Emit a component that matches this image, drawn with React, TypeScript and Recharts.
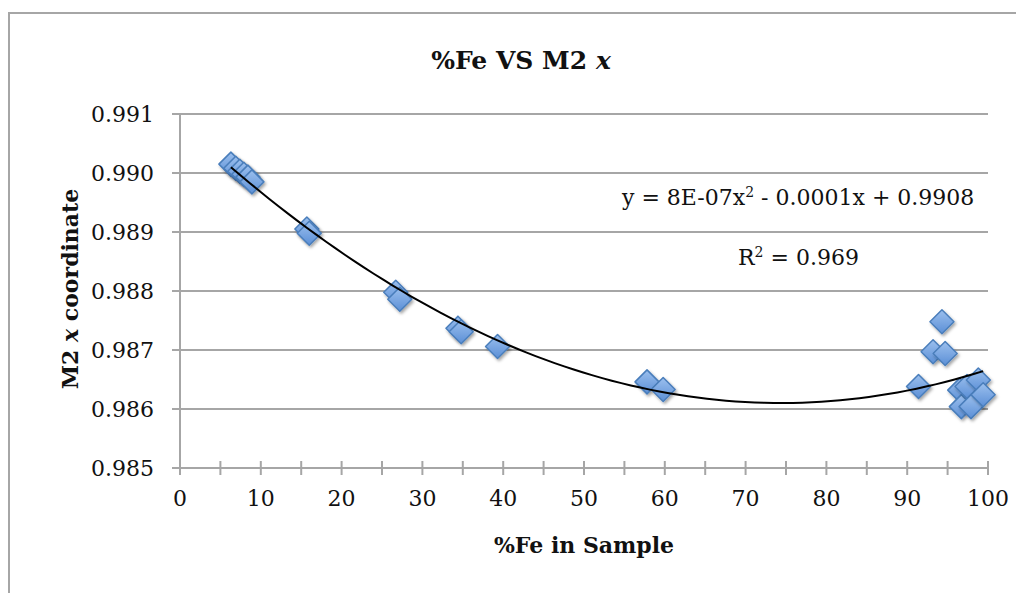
import React from "react";
import { CartesianGrid, Scatter, ScatterChart, XAxis, YAxis } from "recharts";

// %Fe in sample vs. M2 x coordinate, one entry per measured sample
const feX = [
  6.3, 6.9, 7.4, 7.9, 8.4, 8.9, 15.7, 16.0, 26.7, 27.2, 34.4, 34.8, 39.3,
  57.8, 59.8, 91.4, 93.2, 94.3, 94.7, 96.5, 96.7, 97.4, 97.9, 98.8, 99.4,
];
const m2X = [
  0.99015, 0.99008, 0.99003, 0.98998, 0.98993, 0.98985, 0.98905, 0.98898,
  0.98798, 0.98786, 0.98737, 0.98731, 0.98706, 0.98646, 0.98633, 0.98638,
  0.98697, 0.98748, 0.98694, 0.98632, 0.98604, 0.98638, 0.98604, 0.98649,
  0.98624,
];
const xTicks = [0, 5, 10, 15, 20, 25, 30, 35, 40, 45, 50, 55, 60, 65, 70, 75, 80, 85, 90, 95, 100];
const yTicks = [0.985, 0.986, 0.987, 0.988, 0.989, 0.99, 0.991];

const FONT = "'DejaVu Serif', serif";
const GRID = "#a6a6a6";

const samples = feX.map((x, i) => ({ x, y: m2X[i] }));

// least-squares quadratic (polynomial order 2 trendline)
function quadFit(pts: { x: number; y: number }[]) {
  const n = pts.length;
  let s1 = 0, s2 = 0, s3 = 0, s4 = 0, t0 = 0, t1 = 0, t2 = 0;
  for (const p of pts) {
    const x2 = p.x * p.x;
    s1 += p.x; s2 += x2; s3 += x2 * p.x; s4 += x2 * x2;
    t0 += p.y; t1 += p.x * p.y; t2 += x2 * p.y;
  }
  const m = [
    [n, s1, s2, t0],
    [s1, s2, s3, t1],
    [s2, s3, s4, t2],
  ];
  for (let c = 0; c < 3; c++) {
    for (let r = c + 1; r < 3; r++) {
      const f = m[r][c] / m[c][c];
      for (let k = c; k < 4; k++) m[r][k] -= f * m[c][k];
    }
  }
  const a2 = m[2][3] / m[2][2];
  const a1 = (m[1][3] - m[1][2] * a2) / m[1][1];
  const a0 = (m[0][3] - m[0][1] * a1 - m[0][2] * a2) / m[0][0];
  return (x: number) => a0 + a1 * x + a2 * x * x;
}

const fit = quadFit(samples);
const xMin = Math.min(...feX);
const xMax = Math.max(...feX);
const trend = Array.from({ length: 80 }, (_, i) => {
  const x = xMin + ((xMax - xMin) * i) / 79;
  return { x, y: fit(x) };
});

function Diamond(props: any) {
  const { cx, cy } = props;
  const r = 12;
  return (
    <g filter="url(#mkShadow)">
      <polygon
        points={`${cx},${cy - r} ${cx + r},${cy} ${cx},${cy + r} ${cx - r},${cy}`}
        fill="url(#mkFill)"
        stroke="#4a7ebb"
        strokeWidth={1.5}
        strokeLinejoin="round"
      />
    </g>
  );
}

function XTick({ x, y, payload }: any) {
  const v = payload.value;
  return (
    <g>
      <line x1={x} x2={x} y1={y - 7} y2={y + 7} stroke={GRID} strokeWidth={2} />
      {v % 10 === 0 && (
        <text x={x} y={y + 38} textAnchor="middle" fontFamily={FONT} fontSize={22} fill="#111">
          {v}
        </text>
      )}
    </g>
  );
}

function YTick({ x, y, payload }: any) {
  return (
    <g>
      <line x1={x - 8} x2={x + 2} y1={y} y2={y} stroke={GRID} strokeWidth={2} />
      <text x={x - 26} y={y + 8} textAnchor="end" fontFamily={FONT} fontSize={22} fill="#111">
        {payload.value.toFixed(3)}
      </text>
    </g>
  );
}

const abs = (left: number, top: number): React.CSSProperties => ({
  position: "absolute",
  left,
  top,
  fontFamily: FONT,
  color: "#111",
  whiteSpace: "nowrap",
});

export default function App() {
  return (
    <div style={{ position: "relative", width: 1016, height: 585 }}>
      <div
        style={{
          position: "absolute",
          left: 0,
          top: 4,
          width: 1016,
          height: 581,
          borderTop: `2px solid ${GRID}`,
          borderLeft: `2px solid ${GRID}`,
          boxSizing: "border-box",
        }}
      />
      <ScatterChart width={1016} height={585} margin={{ top: 106, right: 36, bottom: 30, left: 0 }}>
        <defs>
          <linearGradient id="mkFill" x1="0" y1="0" x2="0" y2="1">
            <stop offset="0%" stopColor="#9cc0ee" />
            <stop offset="100%" stopColor="#5b8fd6" />
          </linearGradient>
          <filter id="mkShadow" x="-50%" y="-50%" width="200%" height="200%">
            <feDropShadow dx="1.5" dy="2" stdDeviation="1.5" floodColor="#000" floodOpacity="0.35" />
          </filter>
        </defs>
        <CartesianGrid horizontal vertical={false} stroke={GRID} strokeWidth={2} />
        <XAxis
          type="number"
          dataKey="x"
          domain={[0, 100]}
          ticks={xTicks}
          interval={0}
          height={95}
          tickSize={0}
          tickMargin={0}
          tick={<XTick />}
          stroke={GRID}
          strokeWidth={2}
        />
        <YAxis
          type="number"
          dataKey="y"
          domain={[0.985, 0.991]}
          ticks={yTicks}
          interval={0}
          width={172}
          tickSize={0}
          tickMargin={0}
          tick={<YTick />}
          stroke={GRID}
          strokeWidth={2}
        />
        <Scatter data={samples} shape={<Diamond />} isAnimationActive={false} />
        <Scatter
          data={trend}
          line={{ stroke: "#000", strokeWidth: 2 }}
          lineType="joint"
          shape={() => <g />}
          isAnimationActive={false}
        />
      </ScatterChart>

      <div style={{ ...abs(0, 38), width: 1026, textAlign: "center", fontSize: 25, fontWeight: "bold" }}>
        %Fe VS M2 <i>x</i>
      </div>
      <div style={{ ...abs(172, 524), width: 808, textAlign: "center", fontSize: 22, fontWeight: "bold" }}>
        %Fe in Sample
      </div>
      <div
        style={{
          ...abs(62 - 150, 282 - 14),
          width: 300,
          textAlign: "center",
          fontSize: 22,
          fontWeight: "bold",
          transform: "rotate(-90deg)",
        }}
      >
        M2 <i>x</i> coordinate
      </div>
      <div style={{ ...abs(614, 176), fontSize: 22 }}>
        y = 8E-07x<sup style={{ fontSize: 14 }}>2</sup> - 0.0001x + 0.9908
      </div>
      <div style={{ ...abs(730, 236), fontSize: 22 }}>
        R<sup style={{ fontSize: 14 }}>2</sup> = 0.969
      </div>
    </div>
  );
}
